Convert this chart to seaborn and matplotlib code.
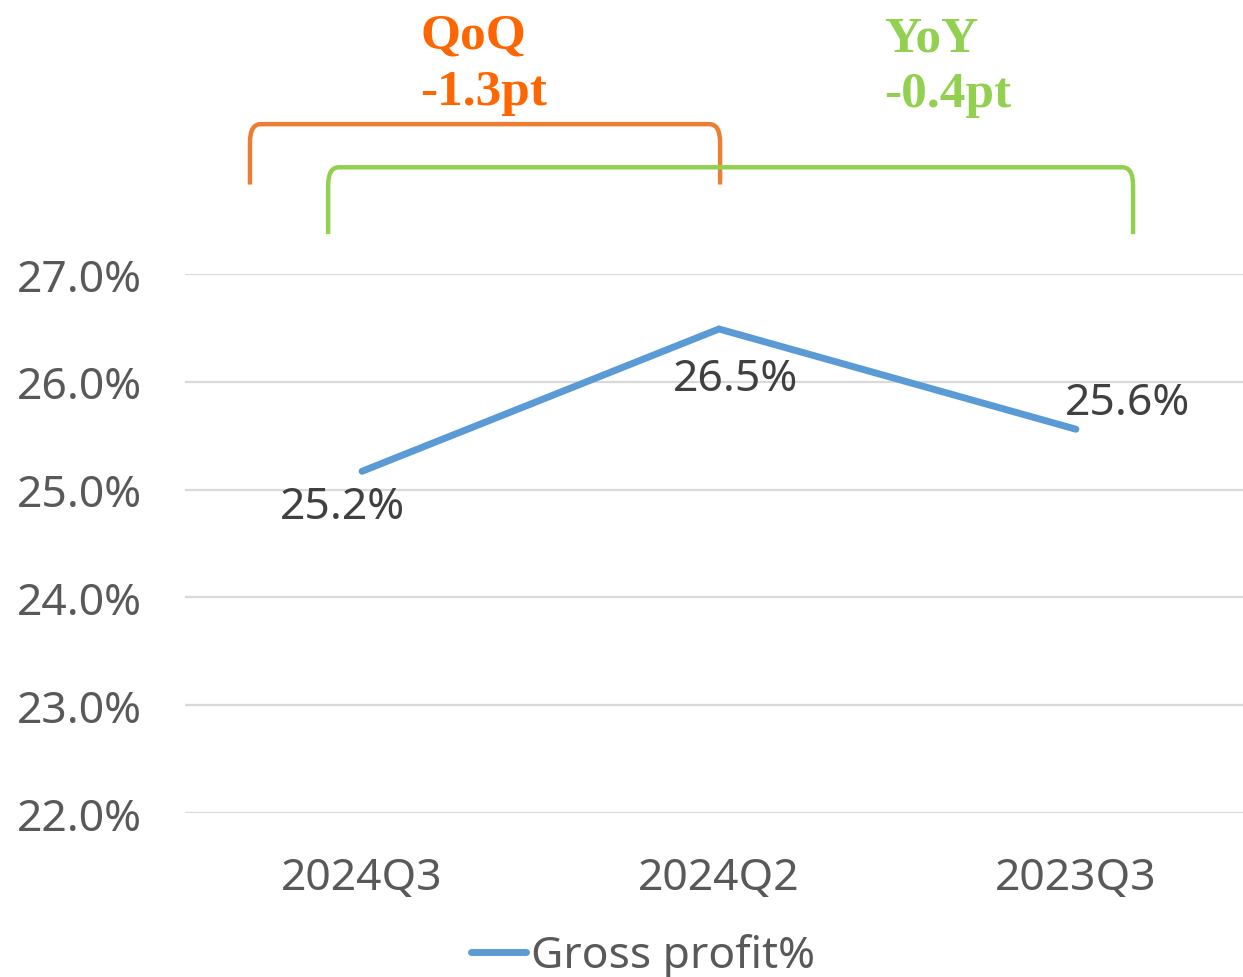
import matplotlib
matplotlib.use("Agg")

import matplotlib.pyplot as plt
from matplotlib.path import Path
from matplotlib.patches import PathPatch
import pandas as pd
import seaborn as sns

# Data
quarters = ["2024Q3", "2024Q2", "2023Q3"]
gross_margin = [25.17, 26.49, 25.56]
value_labels = ["25.2%", "26.5%", "25.6%"]
y_ticks = [22.0, 23.0, 24.0, 25.0, 26.0, 27.0]

LINE_BLUE = "#5B9BD5"
ORANGE = "#ED7D31"
ORANGE_TXT = "#FF6600"
GREEN = "#92D050"
GRAY = "#595959"
DARK = "#404040"

sns.set_style("white")
plt.rcParams["font.family"] = ["Noto Sans", "DejaVu Sans"]

fig = plt.figure(figsize=(12.43, 9.78), dpi=100)
ax = fig.add_axes([185 / 1243, 1 - 814 / 978, 1 - 185 / 1243, (814 - 275) / 978])

df = pd.DataFrame({"quarter": quarters, "gm": gross_margin})
sns.lineplot(data=df, x="quarter", y="gm", ax=ax, sort=False, color=LINE_BLUE,
             linewidth=5, label="Gross profit%", solid_capstyle="round",
             solid_joinstyle="miter")

ax.set_ylim(22, 27)
ax.set_xlim(-0.496, 2.468)
ax.set_yticks(y_ticks)
ax.set_yticklabels([f"{v:.1f}%" for v in y_ticks])
ax.grid(axis="y", color="#D9D9D9", linewidth=1.6)
ax.set_axisbelow(True)
for s in ax.spines.values():
    s.set_visible(False)
ax.tick_params(axis="both", length=0, labelsize=32, labelcolor=GRAY)
ax.tick_params(axis="y", pad=31)
ax.tick_params(axis="x", pad=31)
ax.set_xlabel("")
ax.set_ylabel("")

# value labels
offsets = [(-14, -26), (12, -36), (37, 19)]
for i, (lab, off) in enumerate(zip(value_labels, offsets)):
    ax.annotate(lab, (i, gross_margin[i]), xytext=off, textcoords="offset points",
                ha="center", va="center", fontsize=32, color=DARK)


def bracket(x0, x1, ytop, ybot, color):
    rx, ry = 0.03, 0.17
    verts = [(x0, ybot), (x0, ytop - ry), (x0, ytop), (x0 + rx, ytop),
             (x1 - rx, ytop), (x1, ytop), (x1, ytop - ry), (x1, ybot)]
    codes = [Path.MOVETO, Path.LINETO, Path.CURVE3, Path.CURVE3,
             Path.LINETO, Path.CURVE3, Path.CURVE3, Path.LINETO]
    ax.add_patch(PathPatch(Path(verts, codes), fill=False, edgecolor=color,
                           linewidth=3.2, clip_on=False, capstyle="butt"))


bracket(-0.314, 1.003, 28.39, 27.83, ORANGE)
bracket(-0.095, 2.16, 27.99, 27.37, GREEN)

serif = ["Liberation Serif", "DejaVu Serif"]
fig.text(420 / 1243, 1 - 37 / 978, "QoQ", ha="left", va="center", fontsize=37,
         fontweight="bold", color=ORANGE_TXT, family=serif)
fig.text(420 / 1243, 1 - 93 / 978, "-1.3pt", ha="left", va="center", fontsize=37,
         fontweight="bold", color=ORANGE_TXT, family=serif)
fig.text(884 / 1243, 1 - 39 / 978, "YoY", ha="left", va="center", fontsize=37,
         fontweight="bold", color=GREEN, family=serif)
fig.text(884 / 1243, 1 - 95 / 978, "-0.4pt", ha="left", va="center", fontsize=37,
         fontweight="bold", color=GREEN, family=serif)

ax.get_legend().remove()
handles, labels = ax.get_legend_handles_labels()
leg = fig.legend(handles, labels, loc="center", bbox_to_anchor=(643 / 1243, 1 - 957 / 978),
                 frameon=False, fontsize=32, handlelength=1.25, handletextpad=0.12,
                 labelcolor=GRAY)

fig.savefig("out.png", dpi=100)
